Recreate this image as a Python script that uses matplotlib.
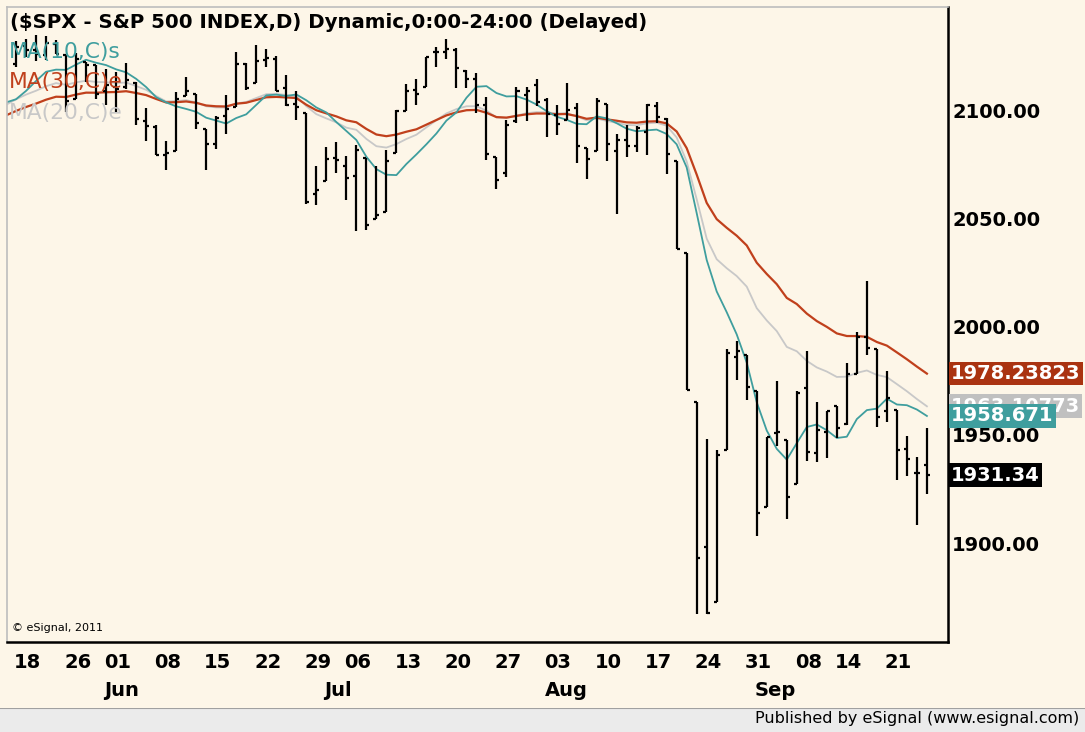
import matplotlib
matplotlib.use("Agg")
import matplotlib.pyplot as plt
import numpy as np
import pandas as pd

# ---------------- data ----------------
dates = ["05-18","05-19","05-20","05-21","05-22","05-26","05-27","05-28","05-29",
         "06-01","06-02","06-03","06-04","06-05","06-08","06-09","06-10","06-11","06-12",
         "06-15","06-16","06-17","06-18","06-19","06-22","06-23","06-24","06-25","06-26",
         "06-29","06-30","07-01","07-02","07-06","07-07","07-08","07-09","07-10",
         "07-13","07-14","07-15","07-16","07-17","07-20","07-21","07-22","07-23","07-24",
         "07-27","07-28","07-29","07-30","07-31","08-03","08-04","08-05","08-06","08-07",
         "08-10","08-11","08-12","08-13","08-14","08-17","08-18","08-19","08-20","08-21",
         "08-24","08-25","08-26","08-27","08-28","08-31","09-01","09-02","09-03","09-04",
         "09-08","09-09","09-10","09-11","09-14","09-15","09-16","09-17","09-18",
         "09-21","09-22","09-23","09-24","09-25"]

opens = [2121.30,2129.45,2127.79,2125.55,2130.36,2125.34,2105.13,2122.27,2120.66,
         2108.64,2110.41,2110.64,2112.35,2095.09,2092.34,2079.07,2081.12,2106.24,2107.43,
         2091.34,2084.26,2097.40,2101.58,2121.06,2112.50,2123.16,2123.65,2109.96,2102.62,
         2098.63,2061.19,2067.00,2078.03,2073.95,2069.52,2077.66,2049.73,2052.74,
         2080.03,2099.72,2109.01,2110.55,2126.80,2126.85,2127.55,2118.21,2114.16,2102.24,
         2078.19,2070.75,2094.70,2106.78,2111.60,2104.49,2097.68,2095.27,2100.75,2082.61,
         2080.98,2102.66,2081.10,2086.19,2083.15,2089.70,2101.99,2095.69,2076.61,2034.08,
         1965.15,1898.08,1872.75,1942.77,1986.06,1986.73,1970.09,1916.52,1950.79,1947.76,
         1927.30,1971.45,1941.59,1951.45,1963.06,1955.10,1978.02,1995.33,1989.66,
         1960.84,1961.39,1943.24,1932.24,1935.93]

highs = [2131.78,2133.02,2134.72,2134.28,2132.15,2125.34,2126.22,2122.27,2120.66,
         2119.15,2117.59,2121.92,2112.89,2100.99,2093.01,2085.62,2108.50,2115.02,2107.43,
         2091.34,2097.40,2106.79,2126.65,2121.64,2129.87,2128.03,2125.10,2116.04,2108.92,
         2098.63,2074.28,2082.78,2085.06,2078.61,2083.74,2077.66,2074.28,2081.31,
         2099.88,2111.98,2114.14,2124.42,2128.91,2132.82,2128.48,2118.51,2116.87,2106.01,
         2078.19,2095.60,2110.60,2110.48,2114.24,2105.70,2102.51,2112.66,2103.32,2082.61,
         2105.35,2102.66,2089.06,2092.93,2092.45,2102.87,2103.47,2096.17,2076.61,2034.08,
         1965.15,1948.04,1943.09,1989.60,1993.48,1986.73,1970.09,1948.91,1975.01,1947.76,
         1970.42,1988.63,1965.29,1961.05,1963.06,1983.19,1997.26,2020.86,1989.66,
         1979.64,1961.39,1949.52,1939.58,1952.89]

lows = [2120.01,2124.50,2122.59,2122.95,2126.06,2099.18,2105.13,2112.86,2104.89,
        2102.54,2099.14,2109.61,2093.23,2085.67,2079.11,2072.14,2081.12,2106.24,2091.33,
        2072.49,2082.10,2088.86,2101.58,2109.45,2112.50,2119.89,2108.58,2101.78,2095.38,
        2056.64,2056.32,2067.00,2071.02,2058.40,2044.02,2044.66,2049.73,2052.74,
        2080.03,2099.72,2102.49,2110.55,2119.88,2123.66,2110.28,2110.00,2098.63,2077.09,
        2063.52,2069.09,2094.08,2094.97,2102.07,2087.31,2088.60,2095.27,2075.53,2067.91,
        2080.98,2076.49,2052.09,2078.26,2080.61,2079.30,2094.14,2070.53,2035.73,1970.89,
        1867.01,1867.08,1872.75,1942.77,1975.19,1965.98,1903.07,1916.52,1944.72,1911.21,
        1927.30,1937.88,1937.19,1939.19,1948.27,1954.30,1977.93,1986.73,1953.45,
        1955.80,1929.22,1930.84,1908.46,1922.57]

closes = [2129.20,2127.83,2125.85,2130.82,2126.06,2104.20,2123.48,2120.79,2107.39,
          2111.73,2109.60,2114.07,2095.84,2092.83,2079.28,2080.15,2105.20,2108.86,2094.11,
          2084.43,2096.29,2100.44,2121.24,2109.99,2122.85,2124.20,2108.58,2102.31,2101.49,
          2057.64,2063.11,2077.42,2076.78,2068.76,2081.34,2046.68,2051.31,2076.62,
          2099.60,2108.95,2107.40,2124.29,2126.64,2128.28,2119.21,2114.15,2102.15,2079.65,
          2067.64,2093.25,2108.57,2108.63,2103.84,2098.04,2093.32,2099.84,2083.56,2077.57,
          2104.18,2084.07,2086.05,2083.39,2091.54,2102.44,2096.92,2079.61,2035.73,1970.89,
          1893.21,1867.61,1940.51,1987.66,1988.87,1972.18,1913.85,1948.86,1951.13,1921.22,
          1969.41,1942.04,1952.29,1961.05,1953.03,1978.09,1995.31,1990.20,1958.03,
          1966.97,1942.74,1938.76,1932.24,1931.34]

# closes before the visible window (for moving-average warm-up)
prior_closes = [2059.69,2066.96,2080.62,2076.33,2081.90,2091.18,2102.06,2092.43,2095.84,
                2106.63,2104.99,2081.18,2100.40,2097.29,2107.96,2112.93,2117.69,2108.92,
                2114.76,2106.85,2085.51,2108.29,2114.49,2089.46,2080.15,2088.00,2116.10,
                2105.33,2099.12,2098.48,2121.10,2122.73]

day_ticks = ["05-18","05-26","06-01","06-08","06-15","06-22","06-29","07-06","07-13",
             "07-20","07-27","08-03","08-10","08-17","08-24","08-31","09-08","09-14","09-21"]
month_ticks = {"Jun": "06-01", "Jul": "07-01", "Aug": "08-03", "Sep": "09-01"}
y_ticks = [1900, 1950, 2000, 2050, 2100]

# value tags shown at the right edge (as printed on the chart)
tag_ema30 = "1978.23823"
tag_ema20 = "1963.10773"
tag_sma10 = "1958.671"
tag_close = "1931.34"

title = "($SPX - S&P 500 INDEX,D) Dynamic,0:00-24:00 (Delayed)"

# ---------------- style ----------------
BG = "#FDF6E8"
TEAL = "#3F9E9E"
RED = "#C0401C"
RED_BOX = "#AA3311"
GRAY = "#C8C8C8"
GRAY_BOX = "#C0C0C0"
FONT = "DejaVu Sans"

W, H = 1085, 732
fig = plt.figure(figsize=(W / 100, H / 100), dpi=100, facecolor=BG)

def fx(px):
    return px / W

def fy(py):
    return 1 - py / H

L, R, T, B = 7, 948, 7, 642
ax = fig.add_axes([fx(L), fy(B), fx(R) - fx(L), fy(T) - fy(B)], facecolor=BG)

n = len(closes)
x = np.arange(n)
o, h, l, c = map(np.array, (opens, highs, lows, closes))

# moving averages
allc = pd.Series(prior_closes + closes)
sma10 = allc.rolling(10).mean().values
ema20 = allc.ewm(span=20, adjust=False).mean().values
ema30 = allc.ewm(span=30, adjust=False).mean().values
k = len(prior_closes)
xm = np.arange(-1, n)
ax.plot(xm, ema20[k - 1:], color=GRAY, lw=1.3, zorder=2)
ax.plot(xm, ema30[k - 1:], color=RED, lw=1.6, zorder=2.2)
ax.plot(xm, sma10[k - 1:], color=TEAL, lw=1.3, zorder=2.4)

# OHLC bars
tw = 0.3
ax.vlines(x, l, h, color="black", lw=1.6, zorder=4)
ax.hlines(o, x - tw, x, color="black", lw=1.6, zorder=4)
ax.hlines(c, x, x + tw, color="black", lw=1.6, zorder=4)

# scales
px_per_bar = 10.01
x0 = 16
ax.set_xlim((L - x0) / px_per_bar, (R - x0) / px_per_bar)
ppv = 433 / 200.0
ax.set_ylim(2100 - (B - 110) / ppv, 2100 + (110 - T) / ppv)

# spines
for s in ("left", "top"):
    ax.spines[s].set_color("#BDBDBD")
    ax.spines[s].set_linewidth(1.2)
for s in ("right", "bottom"):
    ax.spines[s].set_color("black")
    ax.spines[s].set_linewidth(1.8)

# y ticks on the right
ax.yaxis.tick_right()
ax.set_yticks(y_ticks)
ax.set_yticklabels([f"{v:.2f}" for v in y_ticks], fontsize=14, fontweight="bold",
                   family=FONT, color="black")
ax.tick_params(axis="y", length=0, pad=3)

# x ticks (day numbers, left aligned at the bar)
pos = [dates.index(d) - 0.2 for d in day_ticks]
ax.set_xticks(pos)
ax.set_xticklabels([d[-2:] for d in day_ticks], fontsize=14, fontweight="bold",
                   family=FONT, ha="left")
ax.tick_params(axis="x", length=0, pad=8)

for m, d in month_ticks.items():
    ax.annotate(m, xy=(dates.index(d) - 0.2, H - 690), xycoords=("data", "figure pixels"),
                ha="left", va="center", fontsize=14, fontweight="bold", family=FONT,
                annotation_clip=False)

# title & legends
fig.text(fx(10), fy(22), title, fontsize=14.2, fontweight="bold", family=FONT,
         ha="left", va="center", color="black")
leg = [("MA(10,C)s", TEAL, 52), ("MA(30,C)e", RED, 82), ("MA(20,C)e", GRAY, 113)]
for txt, col, py in leg:
    fig.text(fx(9), fy(py), txt, fontsize=15.7, family=FONT, color=col,
             ha="left", va="center", zorder=1)

fig.text(fx(12), fy(628), "© eSignal, 2011", fontsize=8, family=FONT,
         ha="left", va="center")

# value tags
def tag(val, txt, fc, z):
    ax.annotate(txt, xy=(1, val), xycoords=("axes fraction", "data"),
                xytext=(3, 0), textcoords="offset pixels",
                ha="left", va="center", fontsize=14, fontweight="bold", family=FONT,
                color="white", zorder=z, annotation_clip=False,
                bbox=dict(boxstyle="square,pad=0.12", fc=fc, ec="none"))

tag(ema30[-1], tag_ema30, RED_BOX, 10)
tag(ema20[-1], tag_ema20, GRAY_BOX, 11)
tag(sma10[-1], tag_sma10, TEAL, 12)
tag(closes[-1], tag_close, "black", 13)

# footer
fax = fig.add_axes([0, 0, 1, fy(708)], facecolor="#EBEBEB")
fax.set_xticks([]); fax.set_yticks([])
for s in fax.spines.values():
    s.set_visible(False)
fax.axhline(1, color="#A0A0A0", lw=1.5)
fax.set_xlim(0, 1); fax.set_ylim(0, 1)
fig.text(fx(1079), fy(719), "Published by eSignal (www.esignal.com)", fontsize=11.5,
         family=FONT, ha="right", va="center")

fig.savefig("out.png", dpi=100, facecolor=BG)
